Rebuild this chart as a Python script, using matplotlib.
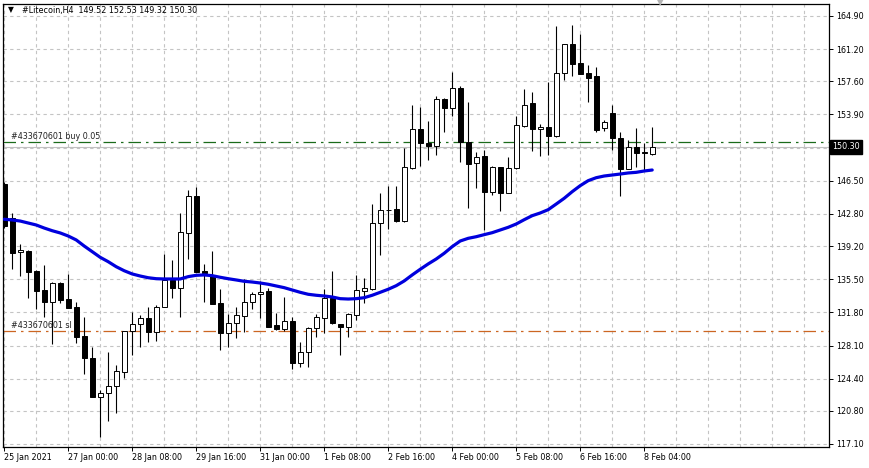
import numpy as np
import matplotlib
matplotlib.use("Agg")
import matplotlib.pyplot as plt
import matplotlib.transforms as mtransforms

# OHLC of the 4h Litecoin bars
opens = [146.14, 142.37, 138.51, 138.66, 136.42, 134.30, 133.00, 135.05, 133.29, 132.43,
         129.16, 126.67, 122.38, 122.76, 123.61, 125.11, 129.69, 130.54, 131.14, 129.64,
         132.37, 135.42, 134.52, 140.67, 144.80, 136.42, 135.98, 132.85, 129.50, 130.61,
         131.40, 132.96, 133.85, 134.19, 130.39, 129.95, 130.84, 126.15, 127.37, 130.05,
         131.17, 133.41, 130.50, 130.17, 131.51, 134.19, 134.41, 141.78, 143.23, 143.35,
         142.00, 147.92, 152.28, 150.72, 150.38, 155.63, 154.62, 156.86, 150.83, 148.48,
         149.27, 145.24, 148.04, 145.13, 147.92, 152.61, 155.18, 152.28, 152.50, 151.50,
         158.53, 161.77, 159.65, 158.53, 158.20, 152.39, 154.07, 151.27, 147.81, 150.27,
         149.71, 149.52]
highs = [146.36, 142.87, 139.44, 138.77, 136.53, 137.09, 135.23, 135.23, 136.09, 132.93,
         131.32, 127.90, 123.13, 127.34, 125.92, 129.69, 131.81, 131.51, 132.43, 132.62,
         138.29, 137.65, 142.90, 145.47, 145.80, 137.20, 138.66, 134.41, 131.62, 132.40,
         135.53, 134.08, 135.31, 134.52, 131.73, 133.52, 131.28, 128.49, 130.17, 131.62,
         134.41, 136.42, 130.50, 131.73, 135.98, 135.64, 143.90, 145.13, 145.91, 145.91,
         150.16, 154.96, 154.74, 153.17, 155.97, 155.74, 158.65, 157.08, 155.30, 149.71,
         149.94, 148.15, 148.04, 149.15, 153.73, 156.75, 156.41, 152.84, 157.53, 163.78,
         161.77, 163.89, 162.89, 159.43, 159.20, 153.29, 154.96, 151.95, 151.05, 152.39,
         150.72, 152.53]
lows = [141.22, 136.65, 135.90, 133.37, 132.18, 131.32, 128.24, 132.81, 132.26, 128.41,
        124.92, 122.30, 117.92, 119.70, 120.53, 124.44, 127.04, 127.97, 128.53, 128.64,
        132.37, 133.41, 131.28, 137.76, 136.31, 132.96, 132.74, 127.60, 127.93, 128.94,
        129.61, 132.18, 131.17, 130.17, 129.83, 129.72, 125.48, 125.70, 125.70, 129.05,
        129.50, 130.50, 127.04, 129.05, 130.95, 132.85, 134.30, 138.21, 141.11, 141.89,
        141.89, 147.81, 148.15, 148.82, 149.38, 151.95, 153.73, 148.60, 143.46, 145.69,
        140.99, 144.91, 143.12, 145.13, 147.81, 152.50, 149.82, 149.26, 149.38, 151.39,
        157.75, 158.20, 158.42, 155.30, 151.95, 152.06, 149.94, 144.80, 147.81, 148.04,
        147.70, 149.32]
closes = [141.45, 138.40, 138.77, 136.34, 134.22, 133.00, 135.05, 133.18, 132.32, 129.09,
          126.74, 122.38, 122.83, 123.61, 125.22, 129.69, 130.54, 131.14, 129.64, 132.43,
          135.42, 134.49, 140.78, 144.80, 136.31, 136.20, 132.74, 129.50, 130.61, 131.51,
          132.96, 133.85, 134.13, 130.17, 129.95, 130.84, 126.15, 127.37, 130.05, 131.28,
          133.41, 130.61, 130.17, 131.62, 134.30, 134.52, 141.78, 143.23, 143.20, 142.00,
          148.04, 152.28, 150.72, 150.38, 155.63, 154.62, 156.86, 150.83, 148.37, 149.15,
          145.24, 148.04, 145.13, 147.92, 152.73, 154.96, 152.28, 152.50, 151.50, 158.53,
          161.77, 159.54, 158.42, 157.98, 152.17, 153.06, 151.27, 147.81, 150.27, 149.60,
          149.62, 150.30]

# moving average line
ma = [142.20, 142.12, 142.00, 141.78, 141.56, 141.22, 140.92, 140.67, 140.33, 139.89,
      139.21, 138.58, 137.95, 137.46, 136.90, 136.45, 136.09, 135.86, 135.67, 135.56,
      135.53, 135.53, 135.53, 135.79, 135.94, 135.98, 135.90, 135.72, 135.56, 135.42,
      135.27, 135.19, 135.08, 134.94, 134.75, 134.56, 134.30, 134.04, 133.82, 133.71,
      133.63, 133.52, 133.33, 133.29, 133.33, 133.44, 133.71, 134.04, 134.38, 134.78,
      135.31, 135.98, 136.61, 137.21, 137.76, 138.40, 139.14, 139.77, 140.07, 140.25,
      140.48, 140.70, 141.00, 141.30, 141.67, 142.15, 142.60, 142.90, 143.27, 143.90,
      144.54, 145.28, 145.95, 146.51, 146.84, 147.03, 147.14, 147.25, 147.37, 147.44,
      147.59, 147.70]

date_labels = ["25 Jan 2021", "27 Jan 00:00", "28 Jan 08:00", "29 Jan 16:00", "31 Jan 00:00",
               "1 Feb 08:00", "2 Feb 16:00", "4 Feb 00:00", "5 Feb 08:00", "6 Feb 16:00",
               "8 Feb 04:00"]
price_ticks = [117.10, 120.80, 124.40, 128.10, 131.80, 135.50, 139.20, 142.80, 146.50,
               150.20, 153.90, 157.60, 161.20, 164.90]
buy_level = 150.79
sl_level = 129.72
last_price = 150.30

fs = 5.8
fig = plt.figure(figsize=(8.69, 4.68), dpi=100)
ax = fig.add_axes([3 / 869, 1 - 446.5 / 468, 826 / 869, 442.5 / 468])

n = len(opens)
x = np.arange(n)
o = np.array(opens)
c = np.array(closes)

ax.vlines(x, lows, highs, color="black", lw=0.8, zorder=3)
bottoms = np.minimum(o, c)
heights = np.maximum(np.abs(c - o), 0.04)
colors = ["black" if cc < oo else "white" for oo, cc in zip(o, c)]
ax.bar(x, heights, bottom=bottoms, width=0.6, color=colors, edgecolor="black",
       linewidth=0.7, zorder=4)

ax.plot(x, ma, color="#0000dd", lw=2.3, zorder=5, solid_capstyle="round")

# order lines and bid line
ax.axhline(last_price, color="#c0c0c0", lw=0.8, zorder=2)
ax.axhline(buy_level, color="#1a6b1a", lw=0.9, dashes=(10, 4, 2, 4), zorder=2)
ax.axhline(sl_level, color="#cc6622", lw=0.9, dashes=(10, 4, 2, 4), zorder=2)
ax.text(0.8, buy_level + 0.15, "#433670601 buy 0.05", fontsize=fs, color="#222222",
        va="bottom", ha="left", zorder=6)
ax.text(0.8, sl_level + 0.15, "#433670601 sl", fontsize=fs, color="#222222",
        va="bottom", ha="left", zorder=6)

ax.set_xlim(-0.15, 103.1)
ax.set_ylim(116.82, 166.24)

# grid
for gx in range(0, 104, 4):
    ax.axvline(gx, color="#c4c4c4", lw=0.8, dashes=(3, 3), zorder=1)
for gy in price_ticks:
    ax.axhline(gy, color="#c4c4c4", lw=0.8, dashes=(3, 3), zorder=1)

ax.yaxis.tick_right()
ax.set_yticks(price_ticks)
ax.set_yticklabels(["%.2f" % p if p != 150.20 else "" for p in price_ticks])
ax.set_xticks(np.arange(0, 8 * len(date_labels), 8))
ax.set_xticklabels(date_labels)
for lab in ax.get_xticklabels():
    lab.set_horizontalalignment("left")
    lab.set_transform(lab.get_transform() + mtransforms.ScaledTranslation(2 / 100, 0, fig.dpi_scale_trans))
ax.tick_params(axis="both", labelsize=fs, length=3, width=0.7, direction="out", pad=2)

for sp in ax.spines.values():
    sp.set_linewidth(0.9)

# current price box
trans = mtransforms.blended_transform_factory(ax.transAxes, ax.transData)
ax.text(1.004, last_price, "150.30", transform=trans, fontsize=fs, color="white",
        va="center", ha="left", zorder=10, clip_on=False,
        bbox=dict(boxstyle="square,pad=0.3", fc="black", ec="black"))

# header
fig.text(8 / 869, 1 - 10 / 468, "\u25bc", fontsize=5.5, va="center", ha="left")
fig.text(22 / 869, 1 - 10 / 468, "#Litecoin,H4  149.52 152.53 149.32 150.30",
         fontsize=fs, va="center", ha="left")
fig.text(660 / 869, 1 - 3 / 468, "\u25bc", fontsize=6, color="#b4b4b4",
         va="center", ha="center")

fig.savefig("out.png", dpi=100)
